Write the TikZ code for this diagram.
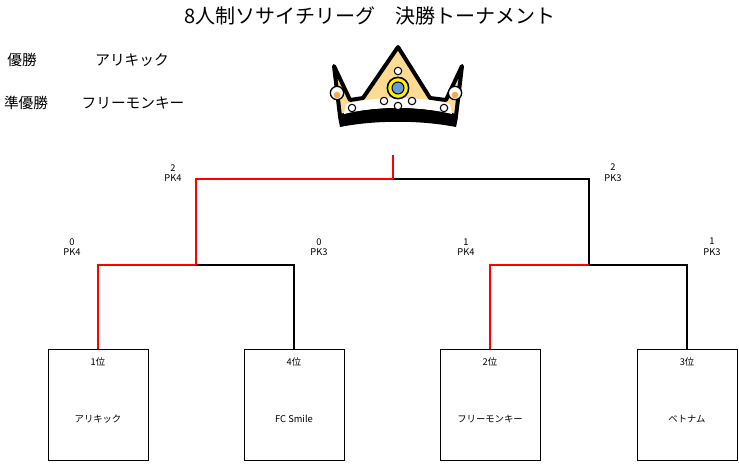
\documentclass[tikz,border=0pt]{standalone}
\usepackage{fontspec}
\setmainfont{Noto Sans CJK JP}
\usetikzlibrary{calc,positioning}
\begin{document}
\begin{tikzpicture}[x=0.75pt,y=-0.75pt]
\tikzset{
  team/.style={draw,line width=0.6pt,minimum width=75pt,minimum height=83pt,anchor=north},
  win/.style={red,line width=1.8pt},
  lose/.style={black,line width=0.8pt},
  small/.style={font=\fontsize{7}{8}\selectfont,align=center},
  lbl/.style={font=\fontsize{11}{13}\selectfont}
}
\useasboundingbox (0,0) rectangle (739,472);

% タイトル
\node[font=\fontsize{15}{18}\selectfont] (title) at (370,16) {8人制ソサイチリーグ\quad 決勝トーナメント};
\node[lbl] (w1) at (22,60) {優勝};
\node[lbl] (w2) at (132,60) {アリキック};
\node[lbl] (r1) at (26,103) {準優勝};
\node[lbl] (r2) at (133,103) {フリーモンキー};

% 王冠
\draw[line width=3pt,fill=yellow!35!orange!40,line join=round]
  (334,66) -- (350,100) -- (363,98) -- (398,47) -- (430,98) -- (446,100) -- (462,66)
  -- (456,116) .. controls (420,108) and (375,108) .. (340,116) -- cycle;
\fill[white] (346,104) .. controls (375,96) and (420,96) .. (450,104)
  -- (452,114) .. controls (420,106) and (375,106) .. (344,114) -- cycle;
\fill[black] (338,117) .. controls (375,105) and (420,105) .. (458,117)
  -- (456,127) .. controls (420,120) and (375,120) .. (340,127) -- cycle;
\draw[line width=1pt,fill=white] (337,93) circle (5pt);
\draw[line width=1pt,fill=white] (455,93) circle (5pt);
\fill[orange!70] (337,95) circle (2.5pt) (455,95) circle (2.5pt);
\draw[line width=1.2pt,fill=yellow] (398,88) circle (8pt);
\draw[line width=0.8pt,fill=cyan!50!blue!60] (398,88) circle (4.5pt);
\foreach \px/\py in {398/71,384/101,412/101,398/106,352/108,444/108}
  \draw[line width=0.8pt,fill=white] (\px,\py) circle (2.8pt);

% チーム
\node[team] (t1) at (98,349) {};
\node[team] (t2) at (294,349) {};
\node[team] (t3) at (490,349) {};
\node[team] (t4) at (687,349) {};
\foreach \n/\r/\name in {t1/1位/アリキック,t2/4位/FC Smile,t3/2位/フリーモンキー,t4/3位/ベトナム}{
  \node[small,below=3pt] at (\n.north) {\r};
  \node[small] at ($(\n.center)+(0,14)$) {\name};
}

% 結合点
\coordinate (a) at (196,265);
\coordinate (b) at (589,265);
\coordinate (c) at (393,179);
\coordinate (top) at (393,155);

\draw[lose] (t2.north) |- (a);
\draw[lose] (t4.north) |- (b);
\draw[lose] (b) |- (c);
\draw[win] (t1.north) |- (a);
\draw[win] (t3.north) |- (b);
\draw[win] (a) |- (c);
\draw[win] (c) -- (top);

% スコア
\node[small] (s1) at (173,173) {2\\PK4};
\node[small] (s2) at (613,173) {2\\PK3};
\node[small] (s3) at (72,247) {0\\PK4};
\node[small] (s4) at (319,247) {0\\PK3};
\node[small] (s5) at (466,247) {1\\PK4};
\node[small] (s6) at (712,247) {1\\PK3};
\end{tikzpicture}
\end{document}
